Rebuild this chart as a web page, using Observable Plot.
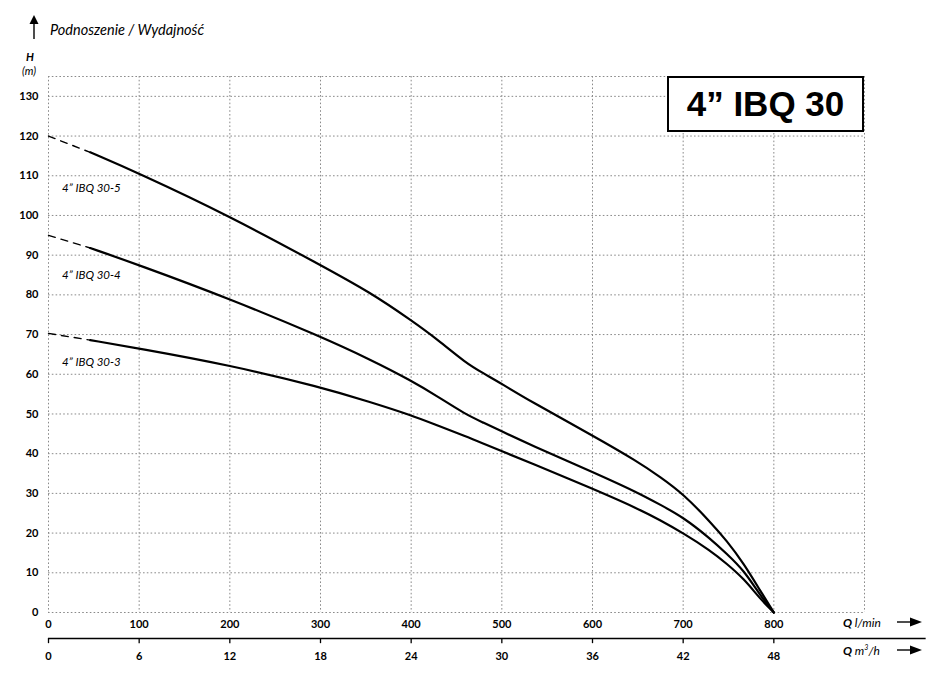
<!DOCTYPE html>
<html>
<head>
<meta charset="utf-8">
<script src="https://cdn.jsdelivr.net/npm/d3@7"></script>
<script src="https://cdn.jsdelivr.net/npm/@observablehq/plot@0.6"></script>
<style>
  html, body { margin: 0; padding: 0; background: #fff; }
  #wrap { position: relative; width: 949px; height: 684px; font-family: Lato, "Open Sans", sans-serif; color: #000; }
  #wrap svg.plot { position: absolute; left: 0; top: 0; }
  .ov { position: absolute; white-space: nowrap; }
</style>
</head>
<body>
<div id="wrap">
  <svg class="ov" style="left:27px;top:14px" width="14" height="26" viewBox="0 0 14 26">
    <line x1="7" y1="8" x2="7" y2="25" stroke="#000" stroke-width="1.4"/>
    <path d="M2.5 10 L7 1 L11.5 10 Z" fill="#000"/>
  </svg>
  <div class="ov" style="left:50px;top:21px;font-size:14.5px;font-style:italic;">Podnoszenie / Wydajność</div>
  <div class="ov" style="left:26px;top:50px;font-size:11px;font-style:italic;font-weight:bold;">H</div>
  <div class="ov" style="left:22px;top:64px;font-size:11px;font-style:italic;">(m)</div>
  <div class="ov" style="left:667px;top:76px;width:193px;height:52px;border:2px solid #000;background:#fff;display:flex;align-items:center;justify-content:center;font-family:'Liberation Sans',Arial,sans-serif;font-weight:bold;font-size:35px;">4” IBQ 30</div>
  <div class="ov" style="left:843px;top:615px;font-size:12px;font-style:italic;"><b>Q</b> l/min</div>
  <div class="ov" style="left:843px;top:643px;font-size:12px;font-style:italic;"><b>Q</b> m<sup style="font-size:7px">3</sup>/h</div>
  <svg class="ov" style="left:896px;top:616px" width="28" height="12" viewBox="0 0 28 12">
    <line x1="1" y1="6" x2="18" y2="6" stroke="#000" stroke-width="1.4"/>
    <path d="M14 1.5 L26 6 L14 10.5 Z" fill="#000"/>
  </svg>
  <svg class="ov" style="left:896px;top:644px" width="28" height="12" viewBox="0 0 28 12">
    <line x1="1" y1="6" x2="18" y2="6" stroke="#000" stroke-width="1.4"/>
    <path d="M14 1.5 L26 6 L14 10.5 Z" fill="#000"/>
  </svg>
</div>
<script>
// ---- data ----
const seriesNames = ["4” IBQ 30-5", "4” IBQ 30-4", "4” IBQ 30-3"];
// shut-off head (Q = 0), dashed part
const shutoffH = [120.0, 95.0, 70.3];
// flow points of the solid curves (l/min)
const flowQ   = [46,    100,   200,  300,  355,  400,  430,  460,  480,  500,  530,  600,  650,  675,  700,  730,  748,  767,  785, 800];
const head305 = [115.9, 110.6, 99.8, 87.5, 80.6, 73.6, 68.6, 62.9, 60.2, 57.6, 53.4, 44.6, 38.0, 34.1, 29.9, 22.8, 18.1, 12.3, 5.5, 0];
const head304 = [91.8,  87.5,  79.0, 69.5, 63.7, 58.4, 54.3, 49.9, 47.8, 45.6, 42.4, 35.4, 30.2, 27.1, 24.0, 18.6, 14.8, 10.6, 4.3, 0];
const head303 = [68.6,  66.5,  62.3, 56.8, 53.0, 49.7, 47.0, 44.4, 42.5, 40.6, 37.9, 31.2, 26.2, 23.2, 20.0, 15.6, 12.3, 8.5,  3.4, 0];
const labelH = [106.9, 84.9, 63.1];
const labelQ = 15;
// axis ticks
const qTicks = [0, 100, 200, 300, 400, 500, 600, 700, 800];
const gridQ = [0, 100, 200, 300, 400, 500, 600, 700, 800, 900];
const hTicks = [0, 10, 20, 30, 40, 50, 60, 70, 80, 90, 100, 110, 120, 130];
const gridH = [...hTicks, 135];
const m3Ticks = [0, 6, 12, 18, 24, 30, 36, 42, 48];

// ---- build tables ----
const heads = [head305, head304, head303];
const solid = [];
const dashed = [];
heads.forEach((hs, s) => {
  flowQ.forEach((q, i) => solid.push({series: seriesNames[s], q, h: hs[i]}));
  dashed.push({series: seriesNames[s], q: 0, h: shutoffH[s]});
  dashed.push({series: seriesNames[s], q: flowQ[0], h: hs[0]});
});
const labels = seriesNames.map((name, i) => ({name, q: labelQ, h: labelH[i]}));
const m3Pos = m3Ticks.map(v => ({v, q: v * 1000 / 60}));

const chart = Plot.plot({
  width: 949,
  height: 684,
  marginLeft: 48,
  marginRight: 85,
  marginTop: 76,
  marginBottom: 72,
  x: {domain: [0, 900]},
  y: {domain: [0, 135]},
  style: {fontFamily: "Lato, 'Open Sans', sans-serif", background: "transparent", overflow: "visible"},
  marks: [
    Plot.gridX(gridQ, {stroke: "#8a8a8a", strokeOpacity: 1, strokeDasharray: "1.6,2.2", strokeWidth: 1}),
    Plot.gridY(gridH, {stroke: "#8a8a8a", strokeOpacity: 1, strokeDasharray: "1.6,2.2", strokeWidth: 1}),
    Plot.axisY(hTicks, {tickSize: 0, tickPadding: 10, fontWeight: "bold", fontSize: 11, label: null}),
    Plot.axisX(qTicks, {tickSize: 0, tickPadding: 8, fontWeight: "bold", fontSize: 11, label: null}),
    // second (m3/h) axis
    Plot.ruleY([0], {x1: 0, x2: 968, dy: 26, stroke: "#000", strokeWidth: 1.3}),
    Plot.ruleX(m3Pos, {x: "q", y1: 0, y2: -1.3, dy: 26, stroke: "#000", strokeWidth: 1.3}),
    Plot.text(m3Pos, {x: "q", y: 0, dy: 44, text: d => String(d.v), fontWeight: "bold", fontSize: 11}),
    // curves
    Plot.line(dashed, {x: "q", y: "h", z: "series", stroke: "#000", strokeWidth: 1.4, strokeDasharray: "7,6"}),
    Plot.line(solid, {x: "q", y: "h", z: "series", stroke: "#000", strokeWidth: 2.2, curve: "basis"}),
    Plot.text(labels, {x: "q", y: "h", text: "name", textAnchor: "start", fontStyle: "italic", fontSize: 11.5})
  ]
});
chart.classList.add("plot");
document.getElementById("wrap").prepend(chart);
</script>
</body>
</html>
